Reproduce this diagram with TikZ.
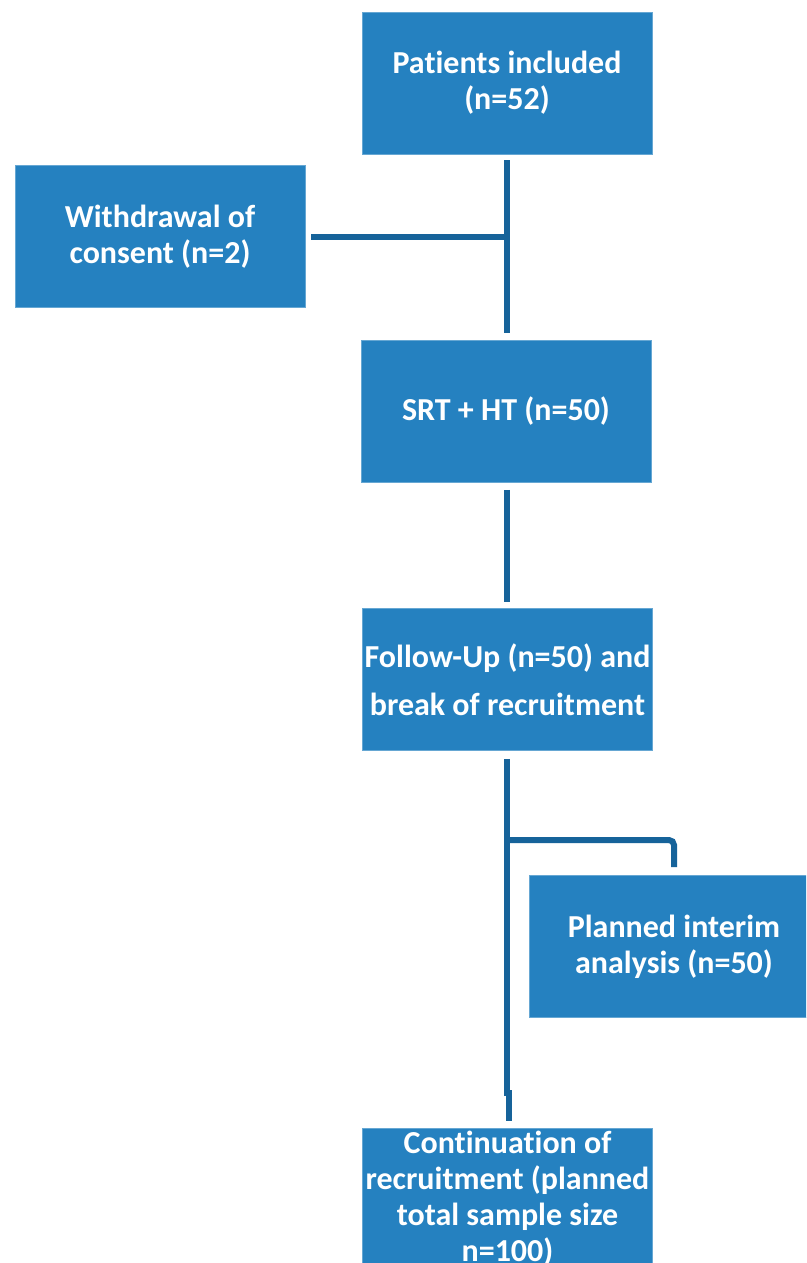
\documentclass[tikz,border=0pt]{standalone}
\usepackage{fontspec}
\setmainfont{Carlito}[Ligatures=NoCommon]
\definecolor{boxblue}{HTML}{2581C0}
\definecolor{lineblue}{HTML}{16639A}
\tikzset{
  flowbox/.style={fill=boxblue, draw=boxblue!70!white, line width=0.8pt, minimum width=290pt, minimum height=142pt, inner sep=0pt, text=white, align=center, font=\bfseries\fontsize{32}{36}\selectfont},
  conn/.style={draw=lineblue, line width=6pt}
}
\begin{document}
\begin{tikzpicture}[x=1pt,y=-1pt]
\useasboundingbox (0,0) rectangle (806,1263);
\clip (0,0) rectangle (806,1263);
\fill[white] (0,0) rectangle (806,1263);
\node[flowbox] (inc) at (507,83) {Patients included\\(n=52)};
\node[flowbox] (wd) at (160,236.5) {Withdrawal of\\consent (n=2)};
\node[flowbox] (srt) at (506,411.5) {SRT + HT (n=50)};
\node[flowbox, font=\bfseries\fontsize{32}{48}\selectfont] (fu) at (507.5,679.5) {Follow-Up (n=50) and\\ break of recruitment};
\node[flowbox] (pia) at (674,946.5) {Planned interim\\analysis (n=50)};
\node[flowbox] (cont) at (507.5,1199) {Continuation of\\recruitment (planned\\total sample size\\n=100)};
% connectors
\draw[conn] ([yshift=-6pt]inc.south) -- ([yshift=7pt]srt.north -| inc.south);
\draw[conn] ([xshift=6pt]wd.east) -- (wd.east -| inc.south);
\draw[conn] ([yshift=-7pt]srt.south -| inc.south) -- ([yshift=6pt]fu.north -| inc.south);
\coordinate (jog) at (507,1093);
\draw[conn] ([yshift=-8pt]fu.south -| inc.south) -- (jog) -- ++(2,0) -- ([xshift=2pt,yshift=7pt]cont.north -| inc.south);
\coordinate (br) at (507,840);
\draw[conn, rounded corners=5pt] (br) -- (br -| pia.north) -- ([yshift=8pt]pia.north);
\end{tikzpicture}
\end{document}
